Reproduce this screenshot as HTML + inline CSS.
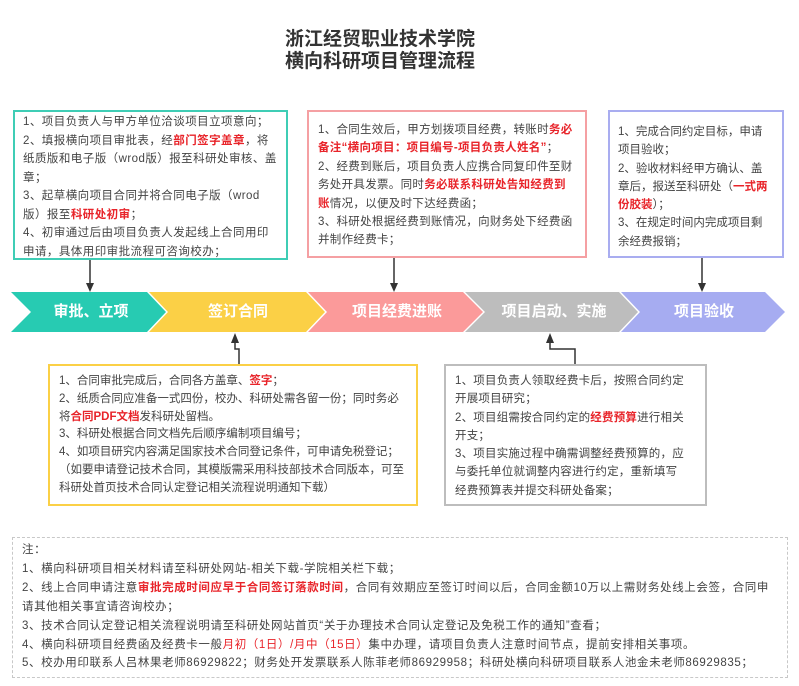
<!DOCTYPE html>
<html><head><meta charset="utf-8"><style>
body{margin:0;width:799px;height:686px;background:#fff;position:relative;overflow:hidden;font-family:"Liberation Sans","Noto Sans CJK SC",sans-serif;color:#444}
.t{position:absolute;left:0;width:760px;text-align:center;font-weight:bold;font-size:19px;color:#333;line-height:22px}
.box{position:absolute;box-sizing:border-box;font-size:11.5px;white-space:nowrap}
.r{color:#e8242a;font-weight:bold}
.lbl{position:absolute;top:292px;height:40px;line-height:40px;color:#fff;font-weight:bold;font-size:15px;text-align:center}
</style></head><body>
<div class="t" style="top:29px">浙江经贸职业技术学院</div>
<div class="t" style="top:51px">横向科研项目管理流程</div>

<div class="box" style="left:13px;top:110px;width:275px;height:150px;border:2px solid #3fcdb5;padding:1px 0 0 8px;line-height:18.5px;letter-spacing:0.45px">1、项目负责人与甲方单位洽谈项目立项意向；<br>2、填报横向项目审批表，经<span class="r">部门签字盖章</span>，将<br>纸质版和电子版（wrod版）报至科研处审核、盖<br>章；<br>3、起草横向项目合同并将合同电子版（wrod<br>版）报至<span class="r">科研处初审</span>；<br>4、初审通过后由项目负责人发起线上合同用印<br>申请，具体用印审批流程可咨询校办；</div>

<div class="box" style="left:307px;top:110px;width:280px;height:148px;border:2px solid #f5a0a3;padding:9px 0 0 9px;line-height:18.4px;letter-spacing:0.3px">1、合同生效后，甲方划拨项目经费，转账时<span class="r">务必</span><br><span class="r">备注“横向项目：项目编号-项目负责人姓名”</span>；<br>2、经费到账后，项目负责人应携合同复印件至财<br>务处开具发票。同时<span class="r">务必联系科研处告知经费到</span><br><span class="r">账</span>情况，以便及时下达经费函；<br>3、科研处根据经费到账情况，向财务处下经费函<br>并制作经费卡；</div>

<div class="box" style="left:608px;top:110px;width:176px;height:148px;border:2px solid #a9adf0;padding:11px 0 0 8px;line-height:18.3px;letter-spacing:0px">1、完成合同约定目标，申请<br>项目验收；<br>2、验收材料经甲方确认、盖<br>章后，报送至科研处（<span class="r">一式两</span><br><span class="r">份胶装</span>）；<br>3、在规定时间内完成项目剩<br>余经费报销；</div>

<svg style="position:absolute;left:0;top:0" width="799" height="686">
<polygon points="11,292 147,292 166,312 147,332 11,332 31,312" fill="#27cbb2"/>
<polygon points="149,292 306,292 325,312 306,332 149,332 168,312" fill="#fbd046"/>
<polygon points="308,292 463,292 483,312 463,332 308,332 327,312" fill="#fb9a9a"/>
<polygon points="465,292 619,292 638,312 619,332 465,332 485,312" fill="#bdbdbd"/>
<polygon points="621,292 765,292 785,312 765,332 621,332 640,312" fill="#a6acf1"/>
<line x1="90" y1="260" x2="90" y2="284" stroke="#333" stroke-width="1.5"/><path d="M86,283 L94,283 L90,292 Z" fill="#333"/>
<line x1="394" y1="258" x2="394" y2="284" stroke="#333" stroke-width="1.5"/><path d="M390,283 L398,283 L394,292 Z" fill="#333"/>
<line x1="702" y1="258" x2="702" y2="284" stroke="#333" stroke-width="1.5"/><path d="M698,283 L706,283 L702,292 Z" fill="#333"/>
<polyline points="239,364 239,349 235,349 235,342" fill="none" stroke="#333" stroke-width="1.5"/>
<path d="M231,343 L239,343 L235,333 Z" fill="#333"/>
<polyline points="575,364 575,349 550,349 550,342" fill="none" stroke="#333" stroke-width="1.5"/>
<path d="M546,343 L554,343 L550,333 Z" fill="#333"/>
</svg>
<div class="lbl" style="left:31px;width:120px">审批、立项</div>
<div class="lbl" style="left:168px;width:140px">签订合同</div>
<div class="lbl" style="left:327px;width:140px">项目经费进账</div>
<div class="lbl" style="left:485px;width:138px">项目启动、实施</div>
<div class="lbl" style="left:640px;width:128px">项目验收</div>

<div class="box" style="left:48px;top:364px;width:370px;height:142px;border:2px solid #fbd046;padding:7px 0 0 9px;line-height:17.8px;letter-spacing:0px">1、合同审批完成后，合同各方盖章、<span class="r">签字</span>；<br>2、纸质合同应准备一式四份，校办、科研处需各留一份；同时务必<br>将<span class="r">合同PDF文档</span>发科研处留档。<br>3、科研处根据合同文档先后顺序编制项目编号；<br>4、如项目研究内容满足国家技术合同登记条件，可申请免税登记；<br>（如要申请登记技术合同，其模版需采用科技部技术合同版本，可至<br>科研处首页技术合同认定登记相关流程说明通知下载）</div>

<div class="box" style="left:444px;top:364px;width:263px;height:142px;border:2px solid #bdbdbd;padding:6px 0 0 9px;line-height:18.3px;letter-spacing:0.2px">1、项目负责人领取经费卡后，按照合同约定<br>开展项目研究；<br>2、项目组需按合同约定的<span class="r">经费预算</span>进行相关<br>开支；<br>3、项目实施过程中确需调整经费预算的，应<br>与委托单位就调整内容进行约定，重新填写<br>经费预算表并提交科研处备案；</div>

<div class="box" style="left:12px;top:537px;width:776px;height:141px;border:1.5px dashed #c8c8c8;padding:3px 0 0 9px;line-height:18.9px;letter-spacing:0.6px">注：<br>1、横向科研项目相关材料请至科研处网站-相关下载-学院相关栏下载；<br>2、线上合同申请注意<span class="r">审批完成时间应早于合同签订落款时间</span>，合同有效期应至签订时间以后，合同金额10万以上需财务处线上会签，合同申<br>请其他相关事宜请咨询校办；<br>3、技术合同认定登记相关流程说明请至科研处网站首页“关于办理技术合同认定登记及免税工作的通知”查看；<br>4、横向科研项目经费函及经费卡一般<span class="r" style="font-weight:normal">月初（1日）/月中（15日）</span>集中办理，请项目负责人注意时间节点，提前安排相关事项。<br>5、校办用印联系人吕林果老师86929822；财务处开发票联系人陈菲老师86929958；科研处横向科研项目联系人池金未老师86929835；</div>
</body></html>
